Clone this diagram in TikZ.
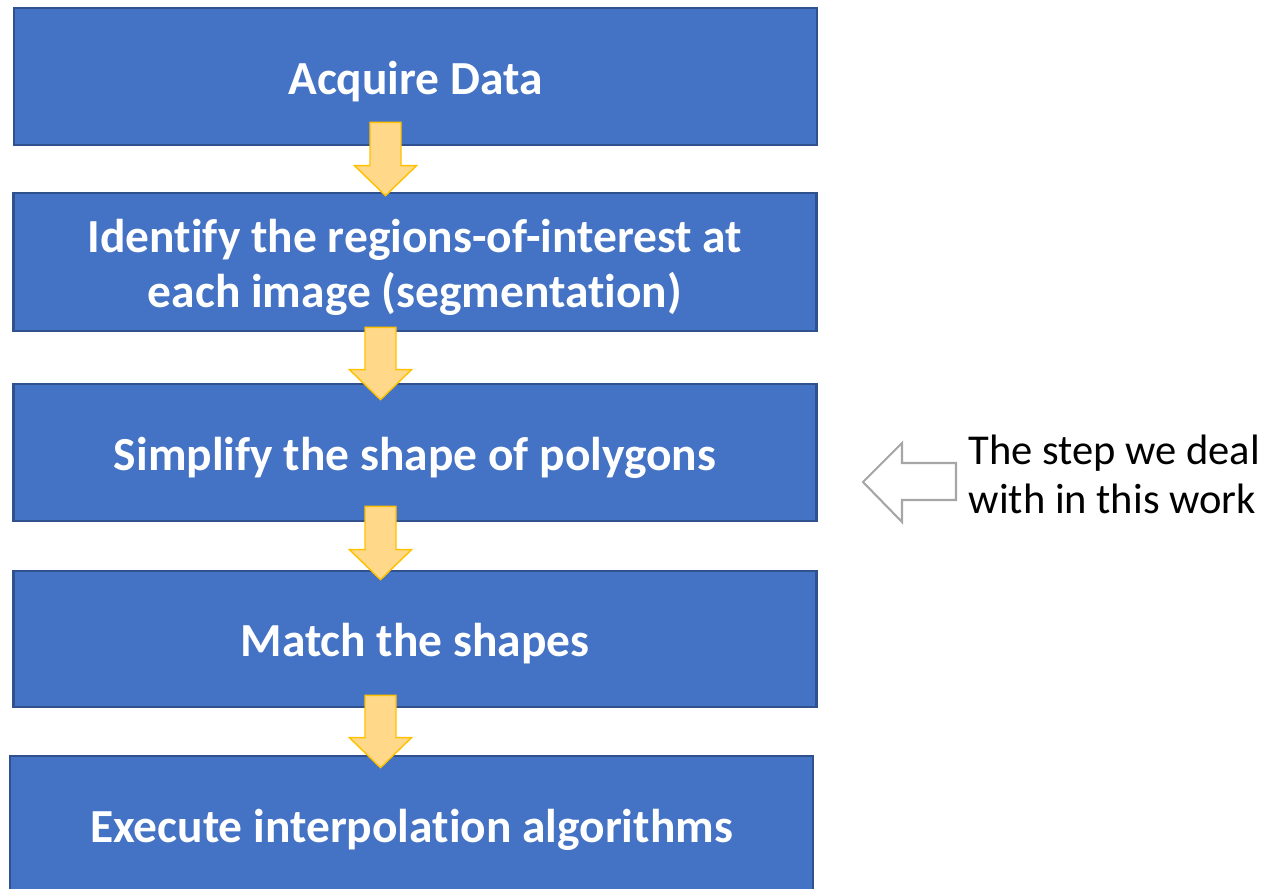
\documentclass[tikz,border=0pt]{standalone}
\usepackage{fontspec}
\setmainfont{Carlito}[RawFeature={-liga}]
\usetikzlibrary{calc, positioning}

\definecolor{boxblue}{HTML}{4472C4}
\definecolor{boxedge}{HTML}{2F528F}
\definecolor{flowfill}{HTML}{FFD88A}
\definecolor{flowedge}{HTML}{FFC000}
\definecolor{notegray}{HTML}{A6A6A6}

\tikzset{
  stepbox/.style={draw=boxedge, fill=boxblue, line width=0.75pt,
    minimum width=8.03cm, minimum height=1.37cm, inner sep=0pt},
  steptext/.style={text=white, align=center, inner sep=0pt, yshift=-0.05cm,
    font=\bfseries\fontsize{13.5}{15.6}\selectfont},
  flowarrow/.style={draw=flowedge, fill=flowfill, line width=0.4pt, line join=miter},
  notearrow/.style={draw=notegray, fill=white, line width=0.6pt, line join=miter},
}

\begin{document}
\begin{tikzpicture}
\useasboundingbox (0,0) rectangle (12.72,-8.89);

% the five steps
\node[stepbox, label={[steptext]center:Acquire Data}] (acquire) at (4.155,-0.765) {};
\node[stepbox, minimum height=1.38cm,
  label={[steptext]center:{Identify the regions-of-interest at\\each image (segmentation)}}]
  (segment) at (4.15,-2.62) {};
\node[stepbox, label={[steptext]center:Simplify the shape of polygons}]
  (simplify) at (4.15,-4.525) {};
\node[stepbox, minimum height=1.36cm, label={[steptext]center:Match the shapes}]
  (match) at (4.15,-6.39) {};
\node[stepbox, label={[steptext]center:Execute interpolation algorithms}]
  (execute) at (4.115,-8.245) {};

% block arrows between the steps
\foreach \a/\b/\dx/\up/\down in {acquire/segment/-0.30/0.24/0.04,
                                  segment/simplify/-0.345/0.05/0.17,
                                  simplify/match/-0.345/0.16/0.10,
                                  match/execute/-0.345/0.13/0.13}{
  \coordinate (top) at ($(\a.south)+(\dx,\up)$);
  \coordinate (tip) at ($(top |- \b.north)+(0,-\down)$);
  \draw[flowarrow] ($(top)+(-0.155,0)$) -- ($(top)+(0.155,0)$)
    -- ($(tip)+(0.155,0.30)$) -- ($(tip)+(0.31,0.30)$) -- (tip)
    -- ($(tip)+(-0.31,0.30)$) -- ($(tip)+(-0.155,0.30)$) -- cycle;
}

% remark on the right
\node[anchor=west, align=left, inner sep=0pt,
      font=\fontsize{12.1}{14}\selectfont] (note) at (9.68,-4.74)
  {The step we deal\\with in this work};
\draw[notearrow] (9.56,-4.63) -- (9.02,-4.63) -- (9.02,-4.43) -- (8.63,-4.82)
  -- (9.02,-5.22) -- (9.02,-5.00) -- (9.56,-5.00) -- cycle;
\end{tikzpicture}
\end{document}
